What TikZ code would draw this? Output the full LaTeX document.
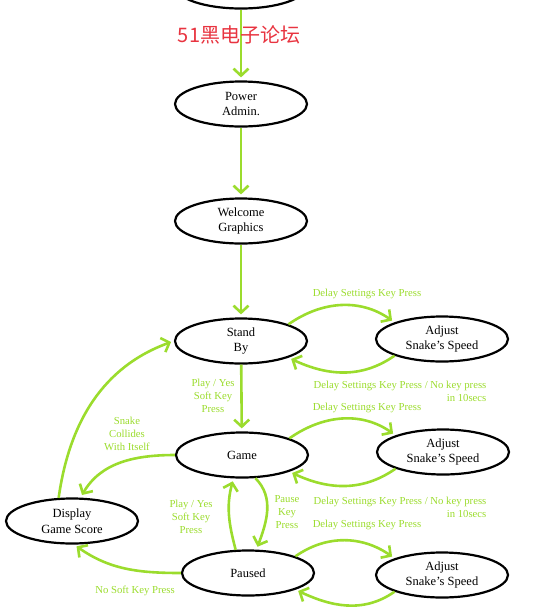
\documentclass[tikz,border=0pt]{standalone}
\usepackage{fontspec}
\setmainfont{Liberation Serif}
\newfontfamily\cjk{Noto Sans CJK SC}
\usepackage{xcolor}
\definecolor{snakegreen}{RGB}{155,220,45}
\definecolor{forumred}{RGB}{232,52,64}
\usetikzlibrary{arrows.meta,shapes.geometric}

\begin{document}
\begin{tikzpicture}[x=1pt,y=-1pt,
  snakestate/.style={draw,ellipse,line width=2.2pt,minimum width=132pt,minimum height=45pt,
    align=center,font=\fontsize{12.5}{15.5}\selectfont,inner sep=0pt},
  snakeedge/.style={draw=snakegreen,line width=2.6pt,-{Straight Barb[length=7pt,width=15pt]},
    shorten >=3pt},
  snakelabel/.style={text=snakegreen,font=\fontsize{10.7}{13}\selectfont,align=center,inner sep=0pt}
]
  \useasboundingbox (0,0) rectangle (540,614);
  % States
  \node[snakestate] (start) at (241,-14) {};
  \node[snakestate] (power) at (241,104) {Power\\Admin.};
  \node[snakestate] (welcome) at (241,221) {Welcome\\Graphics};
  \node[snakestate] (standby) at (241,341) {Stand\\By};
  \node[snakestate] (adjust1) at (442,339) {Adjust\\Snake's Speed};
  \node[snakestate] (game) at (242,455) {Game};
  \node[snakestate] (adjust2) at (443,452) {Adjust\\Snake's Speed};
  \node[snakestate] (score) at (72,521) {Display\\Game Score};
  \node[snakestate] (paused) at (248,573) {Paused};
  \node[snakestate] (adjust3) at (442,575) {Adjust\\Snake's Speed};
  % Start-up chain
  \draw[snakeedge] (start) -- (power);
  \draw[snakeedge] (power) -- (welcome);
  \draw[snakeedge] (welcome) -- (standby);
  \node[text=forumred,font=\cjk\fontsize{20}{21}\selectfont] (forum) at (239,35) {51黑电子论坛};
  % Stand by and speed setting
  \draw[snakeedge] (standby.north east) to[out=35,in=145] (adjust1.north west);
  \draw[snakeedge] (adjust1.south west) to[out=215,in=-25] (standby.south east);
  \draw[snakeedge] (standby) -- (game);
  \node[snakelabel] (l1) at (367,294) {Delay Settings Key Press};
  \node[snakelabel,align=right] (l2) at (400,391) {Delay Settings Key Press / No key press\\in 10secs};
  \node[snakelabel] (l3) at (213,396) {Play / Yes\\Soft Key\\Press};
  % Game
  \draw[snakeedge] (game.north east) to[out=35,in=145] (adjust2.north west);
  \draw[snakeedge] (adjust2.south west) to[out=215,in=-25] (game.south east);
  \draw[snakeedge] (game.west) to[out=180,in=60] (score.70);
  \draw[snakeedge] (score.120) to[out=82,in=200] (standby.west);
  \draw[snakeedge] (game.-60) to[out=-45,in=70] (paused.70);
  \node[snakelabel] (l4) at (367,408) {Delay Settings Key Press};
  \node[snakelabel] (l5) at (127,434) {Snake\\Collides\\With Itself};
  \node[snakelabel,align=right] (l6) at (400,507) {Delay Settings Key Press / No key press\\in 10secs};
  \node[snakelabel] (l7) at (287,512) {Pause\\Key\\Press};
  % Paused
  \draw[snakeedge] (paused.118) to[out=105,in=-105] (game.-110);
  \draw[snakeedge] (paused.north east) to[out=35,in=145] (adjust3.north west);
  \draw[snakeedge] (adjust3.south west) to[out=215,in=-25] (paused.south east);
  \draw[snakeedge] (paused.west) to[out=180,in=-35] (score.-85);
  \node[snakelabel] (l8) at (191,517) {Play / Yes\\Soft Key\\Press};
  \node[snakelabel] (l9) at (367,525) {Delay Settings Key Press};
  \node[snakelabel] (l10) at (135,591) {No Soft Key Press};
\end{tikzpicture}
\end{document}
